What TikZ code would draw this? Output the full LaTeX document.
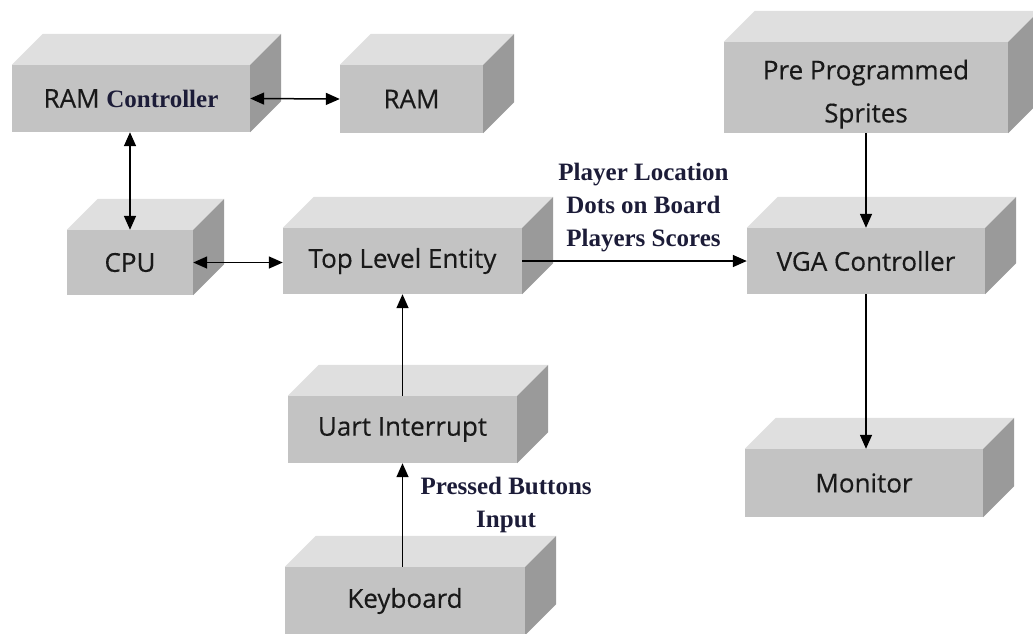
\documentclass[tikz,border=0pt]{standalone}
\usepackage{fontspec}
\setmainfont{Liberation Serif}
\newfontfamily\boxfont[FakeBold=0.4]{Open Sans}
\usetikzlibrary{arrows.meta,calc}

\definecolor{frontgray}{HTML}{C3C3C3}
\definecolor{topgray}{HTML}{DFDFDF}
\definecolor{sidegray}{HTML}{9A9A9A}
\definecolor{labelink}{HTML}{1C1C38}

\tikzset{
	blk/.style={fill=frontgray, inner sep=0pt, align=center, text=black!90,
		font=\boxfont\fontsize{26}{43}\selectfont},
	lbl/.style={font=\bfseries\fontsize{25}{33}\selectfont, text=labelink, align=center},
	link/.style={line width=1.5pt, -{Triangle[length=14pt,width=12pt]}},
	dlink/.style={line width=1.5pt, {Triangle[length=14pt,width=12pt]}-{Triangle[length=14pt,width=12pt]}}
}

\begin{document}
\begin{tikzpicture}[x=1pt, y=-1pt]
	\useasboundingbox (0,0) rectangle (1033,633);

	% front faces
	\node[blk, minimum width=238pt, minimum height=67pt] (ramc) at (131,98.5) {RAM {\rmfamily\bfseries\fontsize{25}{30}\selectfont\color{labelink}Controller}};
	\node[blk, minimum width=143pt, minimum height=68pt] (ram) at (411.5,99) {RAM};
	\node[blk, minimum width=126pt, minimum height=65pt] (cpu) at (130,262.5) {CPU};
	\node[blk, minimum width=239pt, minimum height=66pt] (tle) at (402.5,261) {Top Level Entity};
	\node[blk, minimum width=229pt, minimum height=67pt] (uart) at (402.5,429.5) {Uart Interrupt};
	\node[blk, minimum width=240pt, minimum height=68pt] (kbd) at (405,601) {Keyboard};
	\node[blk, minimum width=284pt, minimum height=91pt] (spr) at (866,87.5) {\rule{0pt}{33pt}Pre Programmed\\Sprites};
	\node[blk, minimum width=238pt, minimum height=66pt] (vga) at (866,261) {VGA Controller};
	\node[blk, minimum width=238pt, minimum height=68pt] (mon) at (864,483) {Monitor};

	% top and side faces
	\foreach \n in {ramc,ram,cpu,tle,uart,kbd,spr,vga,mon} {
		\fill[topgray] (\n.north west) -- ++(31pt,31pt) -- ($(\n.north east)+(31pt,31pt)$) -- (\n.north east) -- cycle;
		\fill[sidegray] (\n.north east) -- ++(31pt,31pt) -- ($(\n.south east)+(31pt,31pt)$) -- (\n.south east) -- cycle;
	}

	% connections
	\draw[dlink] (ramc.east) -- (ram.west);
	\draw[dlink] (cpu.north |- ramc.south) -- (cpu.north);
	\draw[dlink] (cpu.east) -- (cpu.east -| tle.west);
	\draw[link] (tle.east) -- node[lbl, above, pos=0.54, inner sep=8pt] {Player Location\\Dots on Board\\Players Scores} (vga.west);
	\draw[link] (spr.south) -- (vga.north);
	\draw[link] (vga.south) -- (vga.south |- mon.north);
	\draw[link] (uart.north) -- (tle.south);
	\draw[link] (kbd.north -| uart.south) -- node[lbl, right, pos=0.6, xshift=14pt] {Pressed Buttons\\Input} (uart.south);
\end{tikzpicture}
\end{document}
